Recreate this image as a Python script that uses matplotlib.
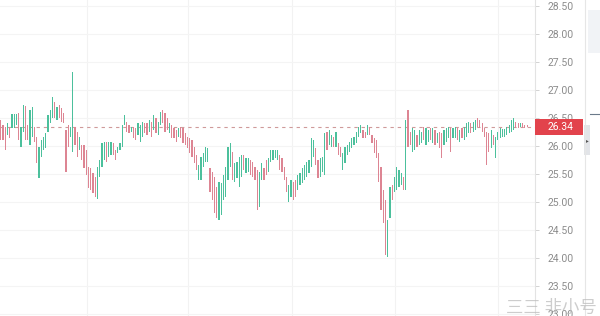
import matplotlib
matplotlib.use("Agg")
import matplotlib.pyplot as plt
import matplotlib.transforms as mtransforms
from matplotlib.patches import Rectangle
import numpy as np

# =========================
# DATA
# =========================
opens = [
    26.46, 26.38, 26.34, 26.20, 26.34, 26.32, 26.32, 26.38, 26.59, 25.98,
    26.25, 26.71, 26.38, 26.02, 26.16, 26.34, 26.16, 25.43, 25.80, 25.93,
    25.96, 26.25, 26.41, 26.50, 26.79, 26.46, 26.73, 26.68, 26.59, 26.29,
    26.38, 26.16, 25.89, 26.34, 26.25, 25.93, 26.02, 26.02, 25.93, 25.63,
    25.61, 25.52, 25.45, 25.05, 25.45, 25.63, 25.75, 26.07, 25.80, 25.84,
    26.05, 25.93, 25.88, 25.93, 25.98, 26.38, 26.43, 26.38, 26.25, 26.34,
    26.32, 26.20, 26.07, 26.16, 26.41, 26.41, 26.25, 26.43, 26.29, 26.50,
    26.20, 26.38, 26.64, 26.59, 26.50, 26.23, 26.38, 26.32, 26.29, 26.16,
    26.34, 26.32, 26.23, 26.16, 26.14, 26.11, 25.98, 25.84, 25.39, 25.39,
    25.63, 25.71, 25.71, 25.61, 25.54, 25.45, 25.27, 24.68, 24.77, 25.04,
    25.09, 25.39, 25.63, 25.89, 25.36, 25.43, 25.27, 25.45, 25.84, 25.52,
    25.54, 25.75, 25.71, 25.63, 25.57, 24.91, 25.39, 25.61, 25.75, 25.54,
    25.71, 25.75, 25.79, 25.75, 25.84, 25.79, 25.63, 25.45, 25.00, 25.09,
    25.36, 25.39, 25.21, 25.30, 25.34, 25.39, 25.45, 25.52, 25.63, 25.80,
    25.96, 25.75, 25.45, 25.54, 25.48, 26.25, 26.02, 25.98, 26.16, 25.98,
    26.05, 25.98, 25.57, 25.70, 25.84, 25.89, 25.96, 26.02, 26.05, 26.16,
    26.23, 26.29, 26.25, 26.20, 26.34, 26.20, 26.14, 26.11, 25.88, 25.63,
    25.21, 25.04, 24.02, 24.71, 25.30, 25.18, 25.21, 25.27, 25.30, 25.45,
    25.21, 26.64, 26.25, 25.89, 25.93, 26.20, 26.02, 26.05, 26.34, 26.02,
    26.07, 26.32, 26.05, 26.29, 26.05, 26.25, 26.23, 26.02, 26.07, 26.14,
    26.32, 26.14, 26.14, 26.32, 26.07, 26.32, 26.11, 26.16, 26.23, 26.41,
    26.25, 26.29, 26.50, 26.46, 26.41, 26.32, 26.25, 26.23, 25.96, 26.20,
    25.79, 26.11, 26.14, 26.16, 26.16, 26.20, 26.23, 26.25, 26.29, 26.43,
    26.41, 26.34, 26.41, 26.38, 26.38,
]
closes = [
    26.11, 26.11, 25.93, 26.41, 26.14, 26.57, 26.57, 26.57, 26.11, 26.34,
    26.73, 26.11, 26.11, 26.64, 26.70, 26.07, 25.70, 25.98, 26.11, 26.16,
    26.23, 26.55, 26.64, 26.88, 26.50, 26.70, 26.50, 26.43, 26.41, 25.54,
    25.98, 26.34, 27.32, 26.02, 25.80, 26.16, 25.75, 25.61, 25.48, 25.25,
    25.21, 25.16, 25.09, 25.63, 25.75, 26.05, 26.07, 25.71, 26.07, 26.07,
    25.84, 25.75, 25.98, 26.05, 26.38, 26.55, 26.25, 26.23, 26.34, 26.14,
    26.11, 26.41, 26.38, 26.43, 26.23, 26.20, 26.46, 26.16, 26.55, 26.23,
    26.43, 26.61, 26.41, 26.25, 26.29, 26.41, 26.14, 26.14, 26.07, 26.32,
    26.14, 26.05, 26.02, 25.96, 25.88, 25.80, 25.70, 25.57, 25.66, 25.80,
    25.88, 25.98, 25.96, 25.18, 25.04, 24.80, 24.71, 25.36, 25.34, 25.48,
    25.63, 25.98, 26.05, 25.39, 25.70, 25.71, 25.80, 25.84, 25.57, 25.79,
    25.79, 25.48, 25.45, 25.39, 24.86, 25.54, 25.70, 25.39, 25.48, 25.79,
    25.93, 25.93, 25.93, 25.93, 25.57, 25.54, 25.39, 25.18, 25.30, 25.39,
    25.04, 25.09, 25.48, 25.52, 25.61, 25.66, 25.71, 25.75, 26.14, 26.11,
    25.66, 25.43, 25.79, 25.80, 26.23, 25.93, 26.29, 26.20, 25.98, 26.25,
    25.84, 25.80, 25.88, 25.98, 26.02, 26.07, 26.14, 26.16, 26.25, 26.34,
    26.38, 26.14, 26.14, 26.38, 26.20, 26.05, 25.88, 25.79, 25.36, 24.86,
    24.63, 24.05, 24.68, 25.27, 25.04, 25.45, 25.63, 25.57, 25.52, 25.21,
    26.46, 25.98, 26.02, 26.32, 26.29, 25.98, 26.29, 26.25, 26.11, 26.32,
    26.29, 26.11, 26.32, 26.02, 26.23, 25.96, 25.79, 26.29, 26.32, 26.34,
    25.89, 26.32, 26.34, 26.11, 26.29, 26.14, 26.34, 26.41, 26.43, 26.23,
    26.43, 26.46, 26.34, 26.32, 26.25, 26.16, 25.66, 25.89, 26.29, 26.02,
    26.16, 26.25, 26.32, 26.30, 26.30, 26.34, 26.38, 26.46, 26.50, 26.32,
    26.32, 26.41, 26.32, 26.32, 26.34,
]
last_price = 26.34
price_ticks = [23.0, 23.5, 24.0, 24.5, 25.0, 25.5, 26.0, 26.5, 27.0, 27.5, 28.0, 28.5]

UP_COLOR = "#4cc09c"
DOWN_COLOR = "#dd8593"

# =========================
# FIGURE
# =========================
fig = plt.figure(figsize=(6, 3.16), dpi=100)
ax = fig.add_axes([0, 0, 535 / 600, 1])

x = np.arange(len(opens))
o = np.array(opens)
c = np.array(closes)
up = c >= o
colors = np.where(up, UP_COLOR, DOWN_COLOR)
bottoms = np.minimum(o, c)
heights = np.abs(c - o)

ax.bar(x, heights, bottom=bottoms, width=0.55, color=colors, linewidth=0, zorder=3)

ax.set_xlim(-0.3, 237.5)
ax.set_ylim(22.964, 28.607)

# grid
for gx in [38.4, 83.3, 129.5, 175.3, 221.0]:
    ax.axvline(gx, color="#f2f2f2", lw=0.8, zorder=0)
for t in price_ticks:
    ax.axhline(t, color="#f4f4f4", lw=0.8, zorder=0)

# last price line
ax.axhline(last_price, color="#cf9a9a", lw=0.8, linestyle=(0, (3, 3.5)), zorder=2)

# axes styling
for side in ["top", "left", "bottom"]:
    ax.spines[side].set_visible(False)
ax.spines["right"].set_color("#e3e3e3")
ax.spines["right"].set_linewidth(0.8)
ax.set_xticks([])
ax.yaxis.tick_right()
ax.set_yticks(price_ticks)
ax.set_yticklabels([f"{t:.2f}" for t in price_ticks])
ax.tick_params(axis="y", length=3, width=0.6, color="#cccccc", pad=6,
               labelsize=7.5, labelcolor="#8c8c8c")
for lab in ax.get_yticklabels():
    lab.set_family("Roboto")

# last price label box
trans = mtransforms.blended_transform_factory(fig.transFigure, ax.transData)
ax.add_patch(Rectangle((535 / 600, last_price - 0.14), 48 / 600, 0.28,
                       transform=trans, facecolor="#e2434c", edgecolor="none",
                       clip_on=False, zorder=10))
ax.text(548 / 600, last_price, f"{last_price:.2f}", transform=trans,
        ha="left", va="center", color="white", fontsize=7.5, family="Roboto",
        zorder=11, clip_on=False)

# right side panel bits
fig.add_artist(plt.Line2D([585 / 600, 585 / 600], [0, 1], color="#e6e6e6", lw=0.8))
fig.add_artist(Rectangle((588 / 600, 1 - 53 / 316), 12 / 600, 43 / 316,
                         transform=fig.transFigure, facecolor="#f1f3f6", edgecolor="none"))
fig.add_artist(plt.Line2D([590 / 600, 1], [1 - 114 / 316, 1 - 114 / 316],
                          color="#6b7a8a", lw=0.8))
fig.add_artist(Rectangle((584 / 600, 1 - 155 / 316), 6 / 600, 30 / 316,
                         transform=fig.transFigure, facecolor="#e2e4e8", edgecolor="none"))
fig.text(587 / 600, 1 - 141 / 316, "\u25b8", fontsize=4, color="#555555",
         ha="center", va="center")

# watermark
fig.text(597 / 600, 8 / 316, "三三 非小号", fontsize=12.5, color="#bdbdbd", alpha=0.75,
         ha="right", va="center", family=["Noto Sans CJK SC", "DejaVu Sans"])

fig.savefig("out.png", dpi=100)
